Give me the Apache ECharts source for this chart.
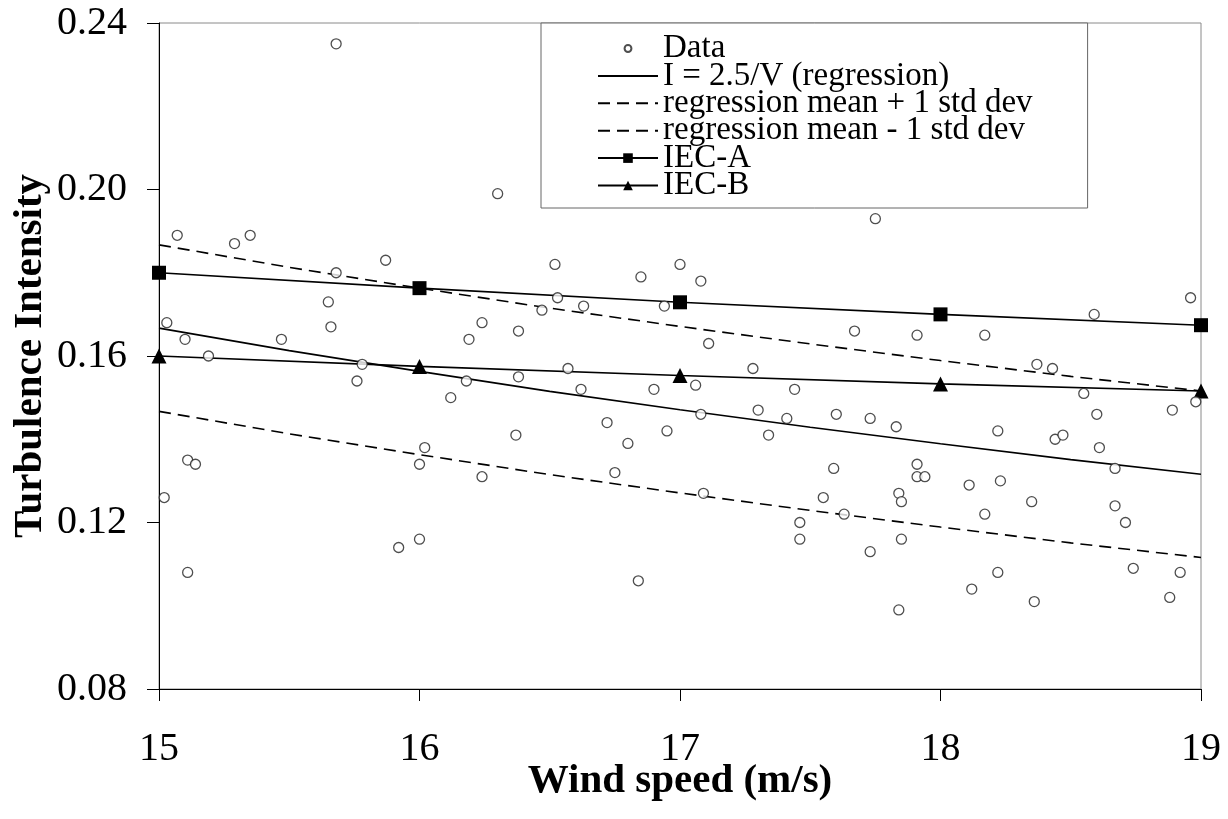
<!DOCTYPE html>
<html>
<head>
<meta charset="utf-8">
<script src="https://cdn.jsdelivr.net/npm/echarts@6/dist/echarts.min.js"></script>
<style>
  html, body { margin: 0; padding: 0; background: #fff; }
  #chart { width: 1228px; height: 819px; }
</style>
</head>
<body>
<div id="chart"></div>
<script>
// Measured turbulence intensity samples (wind speed in m/s, intensity)
const windSpeed = [
  15.68, 15.07, 15.29, 15.35, 15.87, 15.68, 15.65, 15.66, 15.03, 15.10, 15.47, 15.19,
  16.30, 16.52, 16.85, 17.00, 16.53, 16.63, 16.47, 16.94, 16.24, 16.38, 16.19,
  17.75, 17.08, 17.67, 17.91, 17.11,
  18.96, 18.59, 18.17,
  15.78, 15.76, 15.11, 15.14, 15.02, 15.11, 16.00, 16.00, 15.92,
  16.57, 16.38, 16.18, 16.12, 16.62, 16.90, 16.72, 16.95, 16.80, 16.37, 16.02, 16.24, 16.75, 16.84,
  17.28, 17.06, 17.44, 17.08, 17.30, 17.41, 17.60, 17.73, 17.83, 17.34, 17.59, 17.91,
  17.91, 17.94, 17.09, 17.55, 17.84, 17.85, 17.63, 17.46, 17.46, 17.85, 17.73, 17.84,
  18.37, 18.43, 18.55, 18.60, 18.89, 18.98, 18.22, 18.44, 18.47, 18.61, 18.67, 18.11,
  18.23, 18.35, 18.67, 18.17, 18.71, 18.74, 18.92, 18.22, 18.12, 18.36, 18.88
];
const intensity = [
  0.235, 0.189, 0.187, 0.189, 0.183, 0.180, 0.173, 0.167, 0.168, 0.164, 0.164, 0.160,
  0.199, 0.182, 0.179, 0.182, 0.174, 0.172, 0.171, 0.172, 0.168, 0.166, 0.164,
  0.193, 0.178, 0.166, 0.165, 0.163,
  0.174, 0.170, 0.165,
  0.158, 0.154, 0.135, 0.134, 0.126, 0.108, 0.134, 0.116, 0.114,
  0.157, 0.155, 0.154, 0.150, 0.152, 0.152, 0.144, 0.142, 0.139, 0.141, 0.138, 0.131, 0.132, 0.106,
  0.157, 0.153, 0.152, 0.146, 0.147, 0.145, 0.146, 0.145, 0.143, 0.141, 0.133, 0.134,
  0.131, 0.131, 0.127, 0.126, 0.127, 0.125, 0.122, 0.120, 0.116, 0.116, 0.113, 0.099,
  0.158, 0.157, 0.151, 0.146, 0.147, 0.149, 0.142, 0.140, 0.141, 0.138, 0.133, 0.129,
  0.130, 0.125, 0.124, 0.122, 0.120, 0.109, 0.108, 0.108, 0.104, 0.101, 0.102
];

// Regression curve I = 2.5/V and its +/- 1 standard deviation band
const regSpeed = [15, 15.5, 16, 16.5, 17, 17.5, 18, 18.5, 19];
const regMean  = [0.1667, 0.1613, 0.1563, 0.1515, 0.1471, 0.1429, 0.1389, 0.1351, 0.1316];
const regUpper = [0.1867, 0.1813, 0.1763, 0.1715, 0.1671, 0.1629, 0.1589, 0.1551, 0.1516];
const regLower = [0.1467, 0.1413, 0.1363, 0.1315, 0.1271, 0.1229, 0.1189, 0.1151, 0.1116];

// IEC turbulence categories A and B
const iecSpeed = [15, 16, 17, 18, 19];
const iecA = [0.180, 0.1763, 0.1729, 0.1700, 0.1674];
const iecB = [0.160, 0.1575, 0.1553, 0.1533, 0.1516];

const seriesNames = [
  'Data',
  'I = 2.5/V (regression)',
  'regression mean + 1 std dev',
  'regression mean - 1 std dev',
  'IEC-A',
  'IEC-B'
];

const zip = (xs, ys) => xs.map((x, i) => [x, ys[i]]);

const serif = '"Liberation Serif", "Times New Roman", serif';

const chart = echarts.init(document.getElementById('chart'), null, { renderer: 'canvas' });

chart.setOption({
  animation: false,
  backgroundColor: '#fff',
  grid: {
    left: 159, right: 27, top: 23, bottom: 130,
    show: true, borderColor: '#8a8a8a', borderWidth: 1, backgroundColor: 'transparent'
  },
  legend: {
    orient: 'vertical',
    left: 541, top: 23,
    padding: [9, 55, 6, 56],
    itemWidth: 60, itemHeight: 12, itemGap: -5.6,
    backgroundColor: '#fff',
    borderColor: '#666', borderWidth: 1,
    selectedMode: false,
    textStyle: { fontFamily: serif, fontSize: 33, color: '#000' },
    data: [
      { name: seriesNames[0], icon: 'path://M0 0M14 14M3 7a4 4 0 1 0 8 0a4 4 0 1 0 -8 0' },
      { name: seriesNames[1], itemStyle: { opacity: 0 } },
      { name: seriesNames[2], itemStyle: { opacity: 0 } },
      { name: seriesNames[3], itemStyle: { opacity: 0 } },
      { name: seriesNames[4] },
      { name: seriesNames[5] }
    ]
  },
  xAxis: {
    type: 'value',
    min: 15, max: 19, interval: 1,
    name: 'Wind speed (m/s)',
    nameLocation: 'middle',
    nameGap: 72,
    nameMoveOverlap: false,
    nameTextStyle: { fontFamily: serif, fontSize: 41, fontWeight: 'bold', color: '#000' },
    axisLine: { show: true, onZero: false, lineStyle: { color: '#000', width: 1 } },
    axisTick: { show: true, inside: false, length: 12, lineStyle: { color: '#000' } },
    axisLabel: { margin: 40, fontFamily: serif, fontSize: 40, color: '#000' },
    splitLine: { show: false }
  },
  yAxis: {
    type: 'value',
    min: 0.08, max: 0.24, interval: 0.04,
    name: 'Turbulence Intensity',
    nameLocation: 'middle',
    nameRotate: 90,
    nameGap: 108,
    nameMoveOverlap: false,
    nameTextStyle: { fontFamily: serif, fontSize: 41, fontWeight: 'bold', color: '#000' },
    axisLine: { show: true, onZero: false, lineStyle: { color: '#000', width: 1 } },
    axisTick: { show: true, inside: false, length: 12, lineStyle: { color: '#000' } },
    axisLabel: {
      margin: 32, fontFamily: serif, fontSize: 40, color: '#000',
      formatter: v => v.toFixed(2)
    },
    splitLine: { show: false }
  },
  series: [
    {
      name: seriesNames[0],
      type: 'scatter',
      z: 5,
      symbol: 'circle',
      symbolSize: 10,
      itemStyle: { color: '#fff', borderColor: '#222', borderWidth: 1.3 },
      data: zip(windSpeed, intensity)
    },
    {
      name: seriesNames[1],
      type: 'line',
      z: 3,
      symbol: 'none',
      clip: false,
      lineStyle: { color: '#000', width: 1.6, type: 'solid' },
      itemStyle: { color: '#000' },
      data: zip(regSpeed, regMean)
    },
    {
      name: seriesNames[2],
      type: 'line',
      z: 3,
      symbol: 'none',
      clip: false,
      lineStyle: { color: '#000', width: 1.6, type: [12, 7] },
      itemStyle: { color: '#000' },
      data: zip(regSpeed, regUpper)
    },
    {
      name: seriesNames[3],
      type: 'line',
      z: 3,
      symbol: 'none',
      clip: false,
      lineStyle: { color: '#000', width: 1.6, type: [12, 7] },
      itemStyle: { color: '#000' },
      data: zip(regSpeed, regLower)
    },
    {
      name: seriesNames[4],
      type: 'line',
      z: 4,
      symbol: 'rect',
      symbolSize: 14,
      showAllSymbol: true,
      clip: false,
      lineStyle: { color: '#000', width: 1.6 },
      itemStyle: { color: '#000' },
      data: zip(iecSpeed, iecA)
    },
    {
      name: seriesNames[5],
      type: 'line',
      z: 4,
      symbol: 'triangle',
      symbolSize: 15,
      showAllSymbol: true,
      clip: false,
      lineStyle: { color: '#000', width: 1.6 },
      itemStyle: { color: '#000' },
      data: zip(iecSpeed, iecB)
    }
  ]
});
</script>
</body>
</html>
